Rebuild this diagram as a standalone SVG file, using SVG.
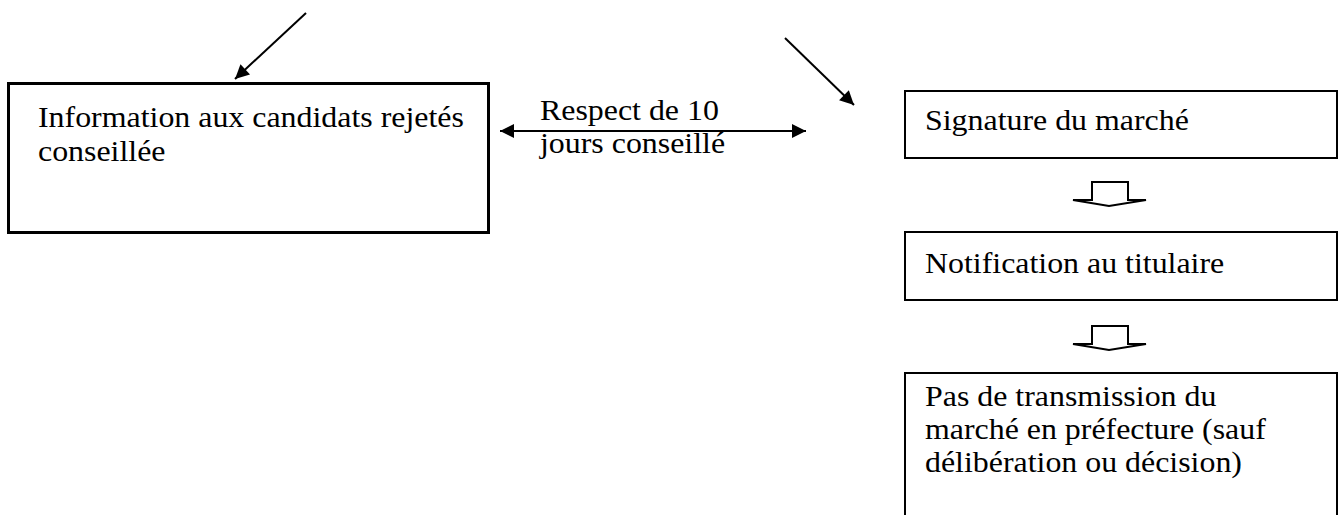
<svg xmlns="http://www.w3.org/2000/svg" width="1342" height="515" viewBox="0 0 1342 515">
<style>
  .t{font-size:29px;fill:#000}
  .box{fill:#fff;stroke:#000}
  .c{stroke:#000;stroke-width:2;fill:none}
  .ha{fill:#fff;stroke:#000;stroke-width:2;stroke-linejoin:miter}
</style>
<defs>
  <marker id="ah" viewBox="0 0 10 10" refX="10" refY="5" markerWidth="8" markerHeight="7" markerUnits="strokeWidth" orient="auto-start-reverse">
    <path d="M0,0 L10,5 L0,10 z" fill="#000"/>
  </marker>
</defs>
<rect width="1342" height="515" fill="#fff"/>
<g id="connectors">
  <line class="c" x1="306" y1="13" x2="235" y2="79" marker-end="url(#ah)"/>
  <line class="c" x1="785" y1="38" x2="854" y2="105" marker-end="url(#ah)"/>
  <line class="c" x1="500" y1="131" x2="806" y2="131" marker-start="url(#ah)" marker-end="url(#ah)"/>
  <polygon class="ha" points="1092,182 1128,182 1128,200 1146,200 1109,206 1073,200 1092,200"/>
  <polygon class="ha" points="1092,326 1128,326 1128,344 1146,344 1109,350 1073,344 1092,344"/>
</g>
<g id="node-info">
  <rect class="box" x="8.5" y="83.5" width="480" height="149" stroke-width="3"/>
  <text class="t" font-family="'Liberation Serif', serif" transform="matrix(1.1 0 0 1 38 127)">Information aux candidats rejetés</text>
  <text class="t" font-family="'Liberation Serif', serif" transform="matrix(1.1 0 0 1 38 161)">conseillée</text>
</g>
<g id="label-respect">
  <text class="t" font-family="'Liberation Serif', serif" transform="matrix(1.1 0 0 1 540 120)">Respect de 10</text>
  <text class="t" font-family="'Liberation Serif', serif" transform="matrix(1.1 0 0 1 540 153)">jours conseillé</text>
</g>
<g id="node-signature">
  <rect class="box" x="905" y="91" width="432" height="67" stroke-width="2"/>
  <text class="t" font-family="'Liberation Serif', serif" transform="matrix(1.1 0 0 1 925 130)">Signature du marché</text>
</g>
<g id="node-notification">
  <rect class="box" x="905" y="232" width="432" height="68" stroke-width="2"/>
  <text class="t" font-family="'Liberation Serif', serif" transform="matrix(1.1 0 0 1 925 273)">Notification au titulaire</text>
</g>
<g id="node-pas">
  <path class="box" d="M905,520 V373 H1337 V520" stroke-width="2"/>
  <text class="t" font-family="'Liberation Serif', serif" transform="matrix(1.1 0 0 1 925 406)">Pas de transmission du</text>
  <text class="t" font-family="'Liberation Serif', serif" transform="matrix(1.1 0 0 1 925 439)">marché en préfecture (sauf</text>
  <text class="t" font-family="'Liberation Serif', serif" transform="matrix(1.1 0 0 1 925 472)">délibération ou décision)</text>
</g>
</svg>
